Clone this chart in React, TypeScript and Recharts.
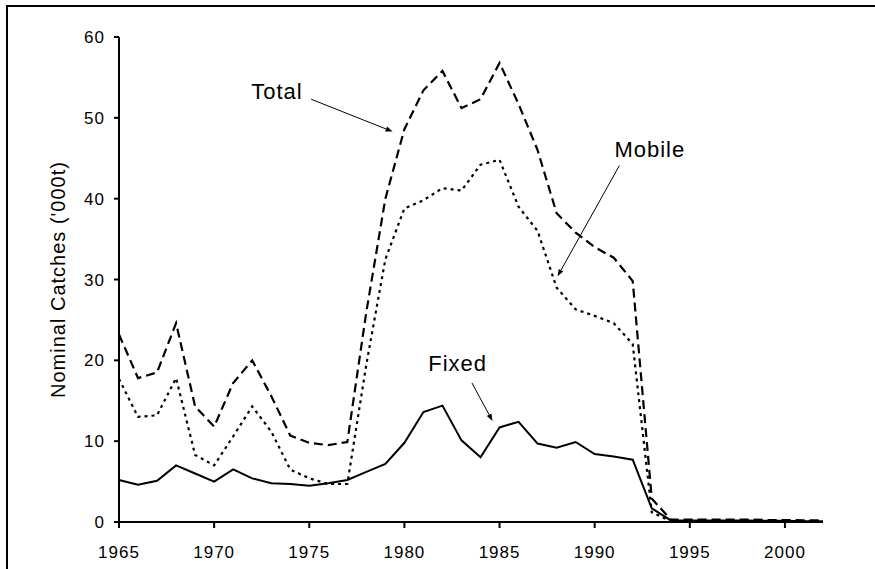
import React from 'react';
import { LineChart, Line, XAxis, YAxis, ReferenceLine, ReferenceDot } from 'recharts';

const years = [
  1965, 1966, 1967, 1968, 1969, 1970, 1971, 1972, 1973, 1974,
  1975, 1976, 1977, 1978, 1979, 1980, 1981, 1982, 1983, 1984,
  1985, 1986, 1987, 1988, 1989, 1990, 1991, 1992, 1993, 1994,
  1995, 1996, 1997, 1998, 1999, 2000, 2001, 2002,
];

const fixed = [
  5.2, 4.6, 5.1, 7.0, 6.0, 5.0, 6.5, 5.4, 4.8, 4.7,
  4.5, 4.8, 5.2, 6.2, 7.2, 9.8, 13.6, 14.4, 10.1, 8.0,
  11.7, 12.4, 9.7, 9.2, 9.9, 8.4, 8.1, 7.7, 1.7, 0.2,
  0.2, 0.2, 0.2, 0.2, 0.15, 0.15, 0.1, 0.1,
];

const mobile = [
  17.7, 13.0, 13.2, 17.8, 8.3, 7.0, 10.6, 14.3, 11.2, 6.5,
  5.4, 4.7, 4.7, 19.5, 32.5, 38.8, 39.8, 41.3, 41.0, 44.2,
  44.8, 39.0, 36.0, 29.0, 26.3, 25.5, 24.6, 22.0, 1.2, 0.1,
  0.1, 0.1, 0.1, 0.1, 0.1, 0.1, 0.1, 0.1,
];

const total = [
  23.2, 17.8, 18.5, 24.6, 14.3, 11.8, 17.2, 20.0, 15.6, 10.7,
  9.8, 9.5, 9.9, 26.0, 40.0, 48.6, 53.4, 55.8, 51.2, 52.3,
  56.8, 51.7, 46.0, 38.2, 35.8, 34.0, 32.7, 29.8, 2.9, 0.3,
  0.3, 0.3, 0.3, 0.3, 0.25, 0.25, 0.2, 0.2,
];

const xTicks = [1965, 1970, 1975, 1980, 1985, 1990, 1995, 2000];
const yTicks = [0, 10, 20, 30, 40, 50, 60];

const annotationLabels = ['Total', 'Mobile', 'Fixed'];
const labelYears = [1973.3, 1992.9, 1982.8];
const labelValues = [53.3, 46.1, 19.6];
const arrowFromYears = [1975.1, 1991.3, 1983.55];
const arrowFromValues = [52.3, 44.1, 17.2];
const arrowToYears = [1979.38, 1988.05, 1984.63];
const arrowToValues = [48.3, 30.4, 12.5];

const data = years.map((year, i) => ({
  year,
  fixed: fixed[i],
  mobile: mobile[i],
  total: total[i],
}));

const FONT = '"Liberation Sans", Arial, Helvetica, sans-serif';

function Arrow(props: any) {
  const { x1, y1, x2, y2 } = props;
  const dx = x2 - x1;
  const dy = y2 - y1;
  const len = Math.hypot(dx, dy) || 1;
  const ux = dx / len;
  const uy = dy / len;
  const L = 7;
  const W = 2.6;
  const bx = x2 - ux * L;
  const by = y2 - uy * L;
  const px = -uy;
  const py = ux;
  return (
    <g>
      <line x1={x1} y1={y1} x2={bx} y2={by} stroke="#000" strokeWidth={1} />
      <polygon
        points={`${x2},${y2} ${bx + px * W},${by + py * W} ${bx - px * W},${by - py * W}`}
        fill="#000"
      />
    </g>
  );
}

function YLabel(props: any) {
  const vb = props.viewBox || { x: 0, y: 0, width: 0, height: 0 };
  const cx = vb.x + 18;
  const cy = vb.y + vb.height / 2;
  return (
    <text
      x={cx}
      y={cy}
      transform={`rotate(-90 ${cx} ${cy})`}
      textAnchor="middle"
      dominantBaseline="central"
      fontSize={20}
      fill="#000"
      stroke="none"
      style={{ letterSpacing: '1px', fontFamily: FONT, fontWeight: 400 }}
    >
      Nominal Catches ('000t)
    </text>
  );
}

const tickStyle = { fontSize: 17, fill: '#000', stroke: 'none', fontFamily: FONT, fontWeight: 400 };

export default function App() {
  return (
    <div
      style={{
        position: 'absolute',
        left: 0,
        top: 0,
        width: 875,
        height: 569,
        overflow: 'hidden',
        background: '#fff',
        fontFamily: FONT,
        fontWeight: 400,
        letterSpacing: '1px',
      }}
    >
      <div
        style={{
          position: 'absolute',
          left: 6,
          top: 5,
          width: 869,
          height: 564,
          boxSizing: 'border-box',
          borderTop: '2.5px solid #000',
          borderLeft: '2.5px solid #000',
        }}
      />
      <div style={{ position: 'absolute', left: 0, top: 0 }}>
        <LineChart
          width={875}
          height={569}
          data={data}
          margin={{ top: 37, right: 52, bottom: 17, left: 40 }}
        >
          <XAxis
            dataKey="year"
            type="number"
            domain={[1965, 2002]}
            ticks={xTicks}
            interval={0}
            height={30}
            tickSize={6}
            tickMargin={18}
            axisLine={{ stroke: '#000', strokeWidth: 2 }}
            tickLine={{ stroke: '#000', strokeWidth: 2 }}
            tick={tickStyle}
          />
          <YAxis
            type="number"
            domain={[0, 60]}
            ticks={yTicks}
            interval={0}
            width={79}
            tickSize={5}
            tickMargin={9}
            axisLine={{ stroke: '#000', strokeWidth: 2 }}
            tickLine={{ stroke: '#000', strokeWidth: 2 }}
            tick={tickStyle}
            label={<YLabel />}
          />
          <Line
            dataKey="total"
            type="linear"
            stroke="#000"
            strokeWidth={2.2}
            strokeDasharray="9 5"
            dot={false}
            isAnimationActive={false}
          />
          <Line
            dataKey="mobile"
            type="linear"
            stroke="#000"
            strokeWidth={2.2}
            strokeDasharray="3 4"
            dot={false}
            isAnimationActive={false}
          />
          <Line
            dataKey="fixed"
            type="linear"
            stroke="#000"
            strokeWidth={2}
            dot={false}
            isAnimationActive={false}
          />
          {annotationLabels.map((name, i) => (
            <ReferenceLine
              key={`arrow-${name}`}
              segment={[
                { x: arrowFromYears[i], y: arrowFromValues[i] },
                { x: arrowToYears[i], y: arrowToValues[i] },
              ]}
              ifOverflow="visible"
              shape={Arrow}
            />
          ))}
          {annotationLabels.map((name, i) => (
            <ReferenceDot
              key={`label-${name}`}
              x={labelYears[i]}
              y={labelValues[i]}
              r={0}
              fill="none"
              stroke="none"
              ifOverflow="visible"
              label={{
                value: name,
                position: 'center',
                fontSize: 22,
                fill: '#000',
                stroke: 'none',
                fontFamily: FONT,
                fontWeight: 400,
              }}
            />
          ))}
        </LineChart>
      </div>
    </div>
  );
}
